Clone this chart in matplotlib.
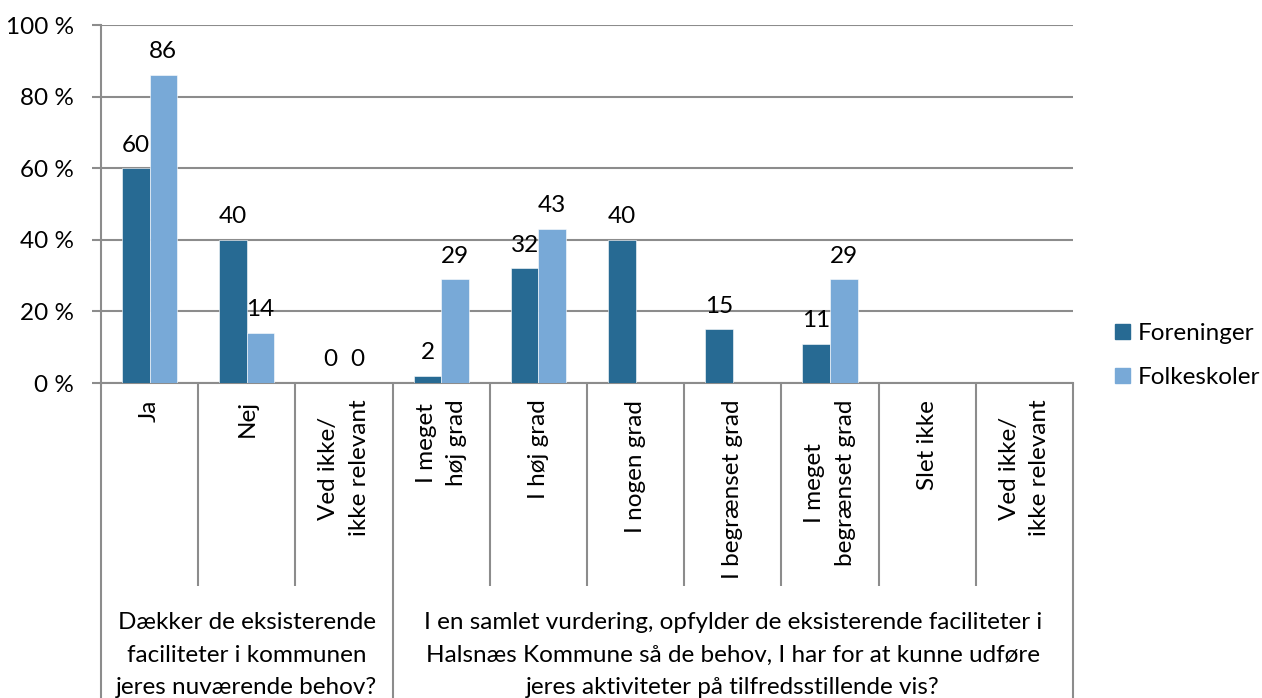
import numpy as np
import matplotlib.pyplot as plt
from matplotlib.patches import Patch

plt.rcParams['font.family'] = ['Lato', 'DejaVu Sans']

categories = ['Ja', 'Nej', 'Ved ikke/\nikke relevant',
              'I meget\nhøj grad', 'I høj grad', 'I nogen grad',
              'I begrænset grad', 'I meget\nbegrænset grad', 'Slet ikke',
              'Ved ikke/\nikke relevant']
foreninger = [60, 40, 0, 2, 32, 40, 15, 11, None, None]
folkeskoler = [86, 14, 0, 29, 43, None, None, 29, None, None]
series_names = ['Foreninger', 'Folkeskoler']
group_labels = ['Dækker de eksisterende\nfaciliteter i kommunen\njeres nuværende behov?',
                'I en samlet vurdering, opfylder de eksisterende faciliteter i\n'
                'Halsnæs Kommune så de behov, I har for at kunne udføre\n'
                'jeres aktiviteter på tilfredsstillende vis?']
group_sizes = [3, 7]
yticks = [0, 20, 40, 60, 80, 100]

dark = '#276a93'
light = '#78a9d7'
grey = '#8c8c8c'
fs = 17.5

W, H = 1262, 698
fig = plt.figure(figsize=(W / 100, H / 100), dpi=100)
left, right, top, bottom = 101, 1073, 25, 383
ax = fig.add_axes([left / W, 1 - bottom / H, (right - left) / W, (bottom - top) / H])

n = len(categories)
x = np.arange(n) + 0.5
bw = 0.283

for vals, off, col in [(foreninger, -bw / 2, dark), (folkeskoler, bw / 2, light)]:
    for xi, v in zip(x, vals):
        if v is None:
            continue
        ax.bar(xi + off, v, width=bw, color=col, edgecolor='white', linewidth=0.4, zorder=3)
        ax.annotate(str(v), (xi + off, v), xytext=(0, 12), textcoords='offset points',
                    ha='center', va='baseline', fontsize=fs, color='black')

ax.set_xlim(0, n)
ax.set_ylim(0, 100)
ax.set_yticks(yticks)
ax.set_yticklabels([f'{t} %' for t in yticks], fontsize=fs)
ax.yaxis.grid(True, color=grey, linewidth=1.5, zorder=0)
ax.tick_params(axis='y', length=6.5, width=1.5, color=grey, pad=13)

ax.set_xticks(x)
ax.set_xticklabels(categories, rotation=90, fontsize=fs, va='top', ha='center',
                   multialignment='center', linespacing=1.55)
ax.tick_params(axis='x', length=0, pad=12)

for s in ['top', 'right']:
    ax.spines[s].set_visible(False)
for s in ['left', 'bottom']:
    ax.spines[s].set_color(grey)
    ax.spines[s].set_linewidth(1.5)

# separators below the axis: short ones between categories, long ones between groups
tr = ax.get_xaxis_transform()
bounds = np.cumsum([0] + group_sizes)
cat_end = (bottom - 586) / (bottom - top)
grp_end = (bottom - H) / (bottom - top)
for i in range(n + 1):
    y_end = grp_end if i in bounds else cat_end
    ax.plot([i, i], [0, y_end], transform=tr, color=grey, linewidth=1.5,
            clip_on=False, solid_capstyle='butt')

for lab, a, b in zip(group_labels, bounds[:-1], bounds[1:]):
    ax.text((a + b) / 2, (bottom - 655) / (bottom - top), lab, transform=tr,
            ha='center', va='center', fontsize=fs, linespacing=1.65)

handles = [Patch(color=dark), Patch(color=light)]
fig.legend(handles, series_names, loc='center left',
           bbox_to_anchor=(1115 / W, 1 - 355.5 / H), frameon=False, fontsize=fs,
           borderpad=0, borderaxespad=0,
           handlelength=0.62, handleheight=0.62, handletextpad=0.3, labelspacing=0.95)

fig.savefig('out.png', dpi=100)
